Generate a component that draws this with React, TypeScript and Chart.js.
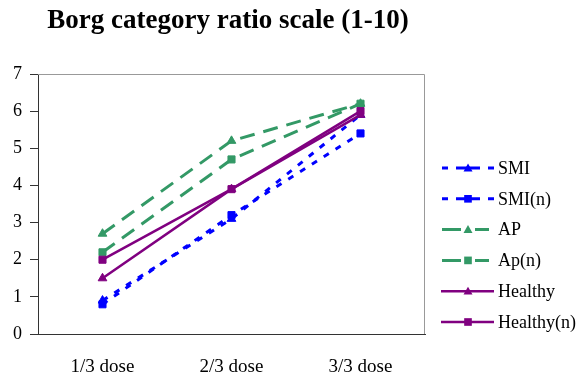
import React, { useEffect, useRef } from "react";
import { Chart, registerables } from "chart.js";

Chart.register(...registerables);

const categories = ["1/3 dose", "2/3 dose", "3/3 dose"];
const seriesNames = ["SMI", "SMI(n)", "AP", "Ap(n)", "Healthy", "Healthy(n)"];
const smi = [0.9, 3.1, 5.9];
const smiN = [0.8, 3.2, 5.4];
const ap = [2.7, 5.2, 6.2];
const apN = [2.2, 4.7, 6.2];
const healthy = [1.5, 3.9, 5.9];
const healthyN = [2.0, 3.9, 6.0];
const yMin = 0;
const yMax = 7;
const yStep = 1;
const titleText = "Borg category ratio scale (1-10)";

const FONT = '"Liberation Serif", "Times New Roman", serif';
const BLUE = "#0000FF";
const GREEN = "#339966";
const PURPLE = "#800080";

const styles = [
  { color: BLUE, dash: [6, 8], width: 3, point: "triangle", kind: "dot" },
  { color: BLUE, dash: [6, 8], width: 3, point: "rect", kind: "dot" },
  { color: GREEN, dash: [15, 9], width: 3, point: "triangle", kind: "dash" },
  { color: GREEN, dash: [15, 9], width: 3, point: "rect", kind: "dash" },
  { color: PURPLE, dash: [], width: 2.5, point: "triangle", kind: "solid" },
  { color: PURPLE, dash: [], width: 2.5, point: "rect", kind: "solid" },
];

const seriesData = [smi, smiN, ap, apN, healthy, healthyN];

const legendSegments: Record<string, number[][]> = {
  dot: [[442, 448], [456, 480], [488, 494]],
  dash: [[442, 461], [475, 489]],
  solid: [[441, 494]],
};

const titlePlugin = {
  id: "customTitle",
  afterDraw(chart: any) {
    const ctx = chart.ctx;
    ctx.save();
    ctx.font = `bold 27px ${FONT}`;
    ctx.fillStyle = "#000";
    ctx.textAlign = "center";
    ctx.textBaseline = "alphabetic";
    ctx.fillText(titleText, 228, 28);
    ctx.restore();
  },
};

const framePlugin = {
  id: "frame",
  beforeDatasetsDraw(chart: any) {
    const { left, right, top, bottom } = chart.chartArea;
    const ctx = chart.ctx;
    ctx.save();
    ctx.strokeStyle = "#999";
    ctx.lineWidth = 1;
    ctx.beginPath();
    ctx.moveTo(left, top + 0.5);
    ctx.lineTo(right - 0.5, top + 0.5);
    ctx.lineTo(right - 0.5, bottom);
    ctx.stroke();
    ctx.restore();
  },
};

function drawMarker(ctx: CanvasRenderingContext2D, type: string, x: number, y: number, r: number) {
  ctx.beginPath();
  if (type === "rect") {
    const s = r * 0.85;
    ctx.rect(x - s, y - s, 2 * s, 2 * s);
  } else {
    ctx.moveTo(x, y - r);
    ctx.lineTo(x + r, y + r * 0.75);
    ctx.lineTo(x - r, y + r * 0.75);
    ctx.closePath();
  }
  ctx.fill();
}

const legendPlugin = {
  id: "customLegend",
  afterDraw(chart: any) {
    const ctx = chart.ctx;
    ctx.save();
    const xm = 468;
    const tx = 498;
    const y0 = 168;
    const dy = 30.8;
    seriesNames.forEach((name, i) => {
      const s = styles[i];
      const y = y0 + i * dy;
      ctx.save();
      ctx.strokeStyle = s.color;
      ctx.lineWidth = s.width;
      ctx.beginPath();
      legendSegments[s.kind].forEach(([a, b]) => {
        ctx.moveTo(a, y);
        ctx.lineTo(b, y);
      });
      ctx.stroke();
      ctx.fillStyle = s.color;
      drawMarker(ctx, s.point, xm, y, 4.5);
      ctx.restore();
      ctx.fillStyle = "#000";
      ctx.font = `18px ${FONT}`;
      ctx.textAlign = "left";
      ctx.textBaseline = "middle";
      ctx.fillText(name, tx, y + 1);
    });
    ctx.restore();
  },
};

export default function App() {
  const canvasRef = useRef<HTMLCanvasElement | null>(null);

  useEffect(() => {
    if (!canvasRef.current) return;
    const datasets = seriesNames.map((name, i) => ({
      label: name,
      data: seriesData[i],
      borderColor: styles[i].color,
      backgroundColor: styles[i].color,
      borderWidth: styles[i].width,
      borderDash: styles[i].dash,
      pointStyle: styles[i].point,
      pointRadius: 5,
      pointBorderWidth: 1,
      pointBackgroundColor: styles[i].color,
      pointBorderColor: styles[i].color,
      tension: 0,
      fill: false,
      order: seriesNames.length - i,
    }));
    const chart = new Chart(canvasRef.current, {
      type: "line",
      data: { labels: categories, datasets },
      options: {
        responsive: false,
        animation: false,
        devicePixelRatio: 1,
        layout: { padding: { top: 74, right: 155, left: 0, bottom: 0 } },
        plugins: {
          legend: { display: false },
          title: { display: false },
          tooltip: { enabled: false },
        },
        scales: {
          x: {
            type: "category",
            offset: true,
            grid: { display: true, drawOnChartArea: false, drawTicks: false },
            border: { display: true, color: "#333", width: 1 },
            ticks: {
              color: "#000",
              font: { family: FONT, size: 19 },
              padding: 22,
              maxRotation: 0,
            },
            afterFit(scale: any) {
              scale.height = 44;
            },
          },
          y: {
            min: yMin,
            max: yMax,
            ticks: {
              stepSize: yStep,
              color: "#000",
              font: { family: FONT, size: 18 },
              padding: 8,
            },
            grid: {
              display: true,
              drawOnChartArea: false,
              drawTicks: true,
              tickLength: 8,
              color: "#333",
            },
            border: { display: true, color: "#333", width: 1 },
            afterFit(scale: any) {
              scale.width = 38;
            },
          },
        },
      } as any,
      plugins: [framePlugin, titlePlugin, legendPlugin],
    });
    return () => chart.destroy();
  }, []);

  return (
    <div style={{ position: "fixed", left: 0, top: 0, width: 580, height: 378, background: "#fff" }}>
      <canvas ref={canvasRef} width={580} height={378} style={{ width: 580, height: 378 }} />
    </div>
  );
}
